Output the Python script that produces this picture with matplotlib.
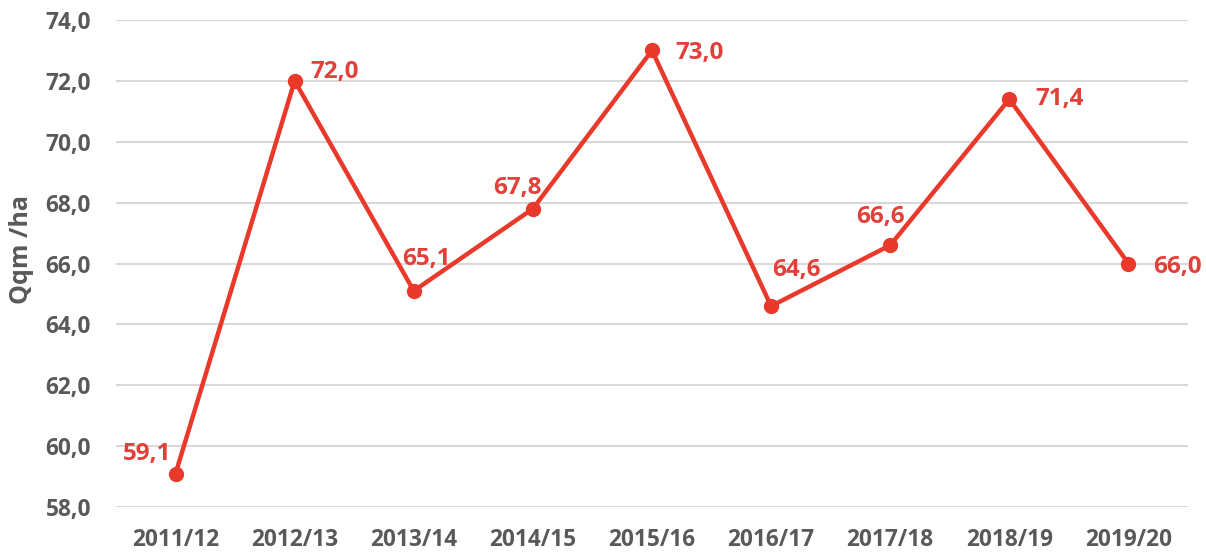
import matplotlib
matplotlib.use("Agg")
from matplotlib import pyplot as plt

# data
seasons = ["2011/12", "2012/13", "2013/14", "2014/15", "2015/16",
           "2016/17", "2017/18", "2018/19", "2019/20"]
yields = [59.1, 72.0, 65.1, 67.8, 73.0, 64.6, 66.6, 71.4, 66.0]
y_ticks = [58, 60, 62, 64, 66, 68, 70, 72, 74]

# label placement (offset in pixels, horizontal alignment)
label_offsets = [(-4, 20, "right"), (16, 9, "left"), (13, 32, "center"),
                 (-16, 21, "center"), (23, -3, "left"), (25, 36, "center"),
                 (-10, 28, "center"), (26, 0, "left"), (25, -3, "left")]

red = "#E8392B"
lab_red = "#E2413A"
grey = "#595959"

plt.rcParams["font.family"] = ["Open Sans", "DejaVu Sans"]

fig = plt.figure(figsize=(12.06, 5.52), dpi=100)
ax = fig.add_axes([116/1206, 1-507/552, (1188-116)/1206, (507-20)/552])

x = list(range(len(seasons)))
ax.plot(x, yields, color=red, lw=3.2, marker="o", ms=10, zorder=3)

px = 0.72
for i, (xv, yv) in enumerate(zip(x, yields)):
  dx, dy, ha = label_offsets[i]
  ax.annotate(f"{yv:.1f}".replace(".", ","), (xv, yv), xytext=(dx*px, dy*px),
              textcoords="offset points", ha=ha, va="center",
              color=lab_red, fontsize=17.5, fontweight="bold", zorder=4)

ax.set_xlim(-0.5, len(seasons)-0.5)
ax.set_ylim(58, 74)
ax.set_xticks(x)
ax.set_xticklabels(seasons)
ax.set_yticks(y_ticks)
ax.set_yticklabels([f"{v:.1f}".replace(".", ",") for v in y_ticks])
ax.tick_params(length=0, labelsize=16.3, labelcolor=grey, pad=18)
ax.tick_params(axis="x", pad=15)
for lab in ax.get_xticklabels() + ax.get_yticklabels():
  lab.set_fontweight("bold")

ax.grid(axis="y", color="#D9D9D9", lw=1.5)
ax.set_axisbelow(True)
for s in ax.spines.values():
  s.set_visible(False)

fig.text(21/1206, 1-249/552, "Qqm /ha", rotation=90, ha="center", va="center",
         color=grey, fontsize=18, fontweight="bold")

fig.savefig("out.png", dpi=100)
